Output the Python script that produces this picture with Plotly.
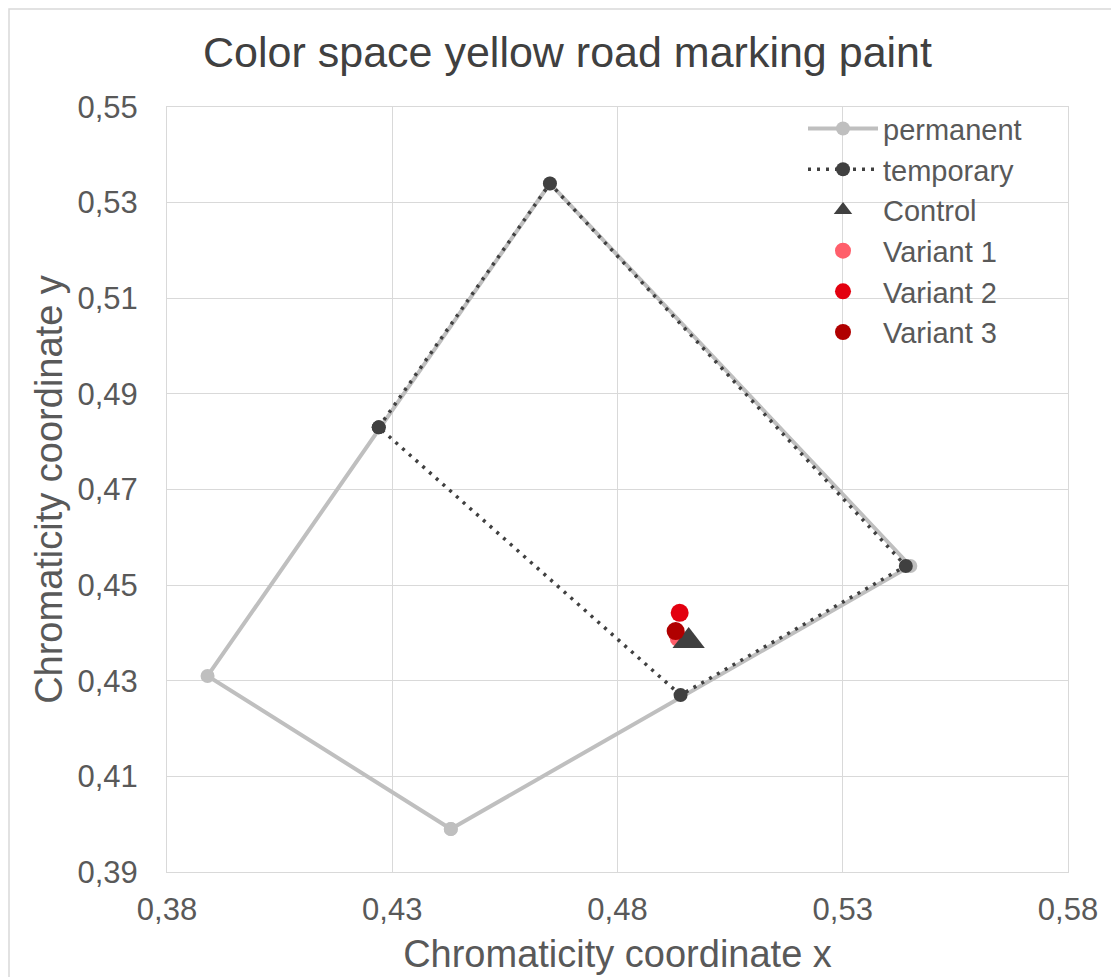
import plotly.graph_objects as go

# Permanent colour box (x, y)
perm_x = [0.443, 0.545, 0.465, 0.389, 0.443]
perm_y = [0.399, 0.454, 0.534, 0.431, 0.399]

# Temporary colour box (x, y)
temp_x = [0.427, 0.465, 0.544, 0.494, 0.427]
temp_y = [0.483, 0.534, 0.454, 0.427, 0.483]

# Samples
control_x, control_y = [0.4958], [0.4383]
v1_x, v1_y = [0.4936], [0.4389]
v2_x, v2_y = [0.4938], [0.4442]
v3_x, v3_y = [0.4929], [0.4404]

x_ticks = [0.38, 0.43, 0.48, 0.53, 0.58]
y_ticks = [0.39, 0.41, 0.43, 0.45, 0.47, 0.49, 0.51, 0.53, 0.55]

FONT = "Liberation Sans, Arial, sans-serif"
TXT = "#595959"

L, R, T, B = 159, 59, 99, 113
W, H = 1119, 977
PW = W - L - R
PH = H - T - B

fig = go.Figure()
fig.add_trace(go.Scatter(x=perm_x, y=perm_y, mode="lines+markers", name="permanent",
                         line=dict(color="#BFBFBF", width=4),
                         marker=dict(color="#BFBFBF", size=14), legendrank=1))
fig.add_trace(go.Scatter(x=temp_x, y=temp_y, mode="lines+markers", name="temporary",
                         line=dict(color="#404040", width=3.5, dash="3px,6px"),
                         marker=dict(color="#404040", size=14), legendrank=2))
fig.add_trace(go.Scatter(x=v1_x, y=v1_y, mode="markers", name="Variant 1",
                         marker=dict(color="#FF5F6B", size=18), legendrank=4))
fig.add_trace(go.Scatter(x=control_x, y=control_y, mode="markers", name="Control",
                         marker=dict(color="#404040", size=28, symbol="triangle-up"), legendrank=3))
fig.add_trace(go.Scatter(x=v2_x, y=v2_y, mode="markers", name="Variant 2",
                         marker=dict(color="#E3000F", size=18), legendrank=5))
fig.add_trace(go.Scatter(x=v3_x, y=v3_y, mode="markers", name="Variant 3",
                         marker=dict(color="#B00000", size=18), legendrank=6))

fig.update_layout(
    width=W, height=H,
    separators=", ",
    paper_bgcolor="white", plot_bgcolor="white",
    font=dict(family=FONT, color=TXT, size=31),
    title=dict(text="Color space yellow road marking paint", x=0.5, xanchor="center",
               xref="container", yref="container",
               y=1 - 44 / H, yanchor="middle", font=dict(size=43, color="#404040")),
    margin=dict(l=L, r=R, t=T, b=B),
    showlegend=True,
    legend=dict(x=(803 - 167) / PW, y=1.005, xanchor="left", yanchor="top", bgcolor="rgba(0,0,0,0)",
                font=dict(size=29, color=TXT), traceorder="normal",
                itemwidth=70, tracegroupgap=0),
    xaxis=dict(range=[0.38, 0.58], tickvals=x_ticks, tickformat=".2f",
               showgrid=True, gridcolor="#D9D9D9", gridwidth=1, zeroline=False,
               showline=True, linecolor="#D9D9D9", mirror=True,
               ticks="", ticklabelstandoff=10, tickfont=dict(size=31, color=TXT),
               title=dict(text="Chromaticity coordinate x", font=dict(size=38, color=TXT), standoff=14)),
    yaxis=dict(range=[0.39, 0.55], tickvals=y_ticks, tickformat=".2f",
               showgrid=True, gridcolor="#D9D9D9", gridwidth=1, zeroline=False,
               showline=True, linecolor="#D9D9D9", mirror=True,
               ticks="", ticklabelstandoff=22, tickfont=dict(size=31, color=TXT),
               title=dict(text="Chromaticity coordinate y", font=dict(size=38, color=TXT), standoff=3)),
    shapes=[dict(type="rect", xref="paper", yref="paper",
                 x0=(1 - L) / PW, x1=1.3, y0=1 + (T - 1) / PH, y1=-0.3,
                 line=dict(color="#D9D9D9", width=1.5), fillcolor="rgba(0,0,0,0)", layer="below")],
)

fig.write_html("out.html")
